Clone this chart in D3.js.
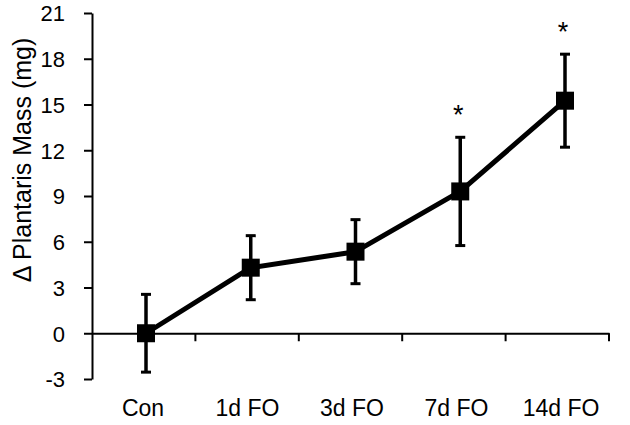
<!DOCTYPE html>
<html>
<head>
<meta charset="utf-8">
<script src="https://cdn.jsdelivr.net/npm/d3@7"></script>
<style>
  body { margin: 0; background: #fff; }
  text { font-family: Arial, "Liberation Sans", sans-serif; fill: #000; }
</style>
</head>
<body>
<svg id="chart" width="630" height="425"></svg>
<script>
const groups = ['Con', '1d FO', '3d FO', '7d FO', '14d FO'];
const means = [0, 4.3, 5.35, 9.3, 15.25];
const errors = [2.55, 2.1, 2.1, 3.55, 3.05];
const signif = [false, false, false, true, true];
const yTicks = [-3, 0, 3, 6, 9, 12, 15, 18, 21];

const svg = d3.select('#chart');
const data = groups.map((g, i) => ({ name: g, value: means[i], err: errors[i], star: signif[i] }));

const y = d3.scaleLinear().domain([-3, 21]).range([379, 13]);
// category bands for the axis ticks
const xBand = d3.scaleBand().domain(groups).range([92, 609]).padding(0);
// marker positions
const xPt = d3.scalePoint().domain(groups).range([146, 565]);
// label positions
const xLab = d3.scalePoint().domain(groups).range([143, 561]);

// y axis
const yAxis = svg.append('g')
  .attr('transform', 'translate(92,0)')
  .call(d3.axisLeft(y).tickValues(yTicks).tickSize(8).tickPadding(19).tickSizeOuter(0)
    .tickFormat(d => String(d)));
yAxis.select('.domain').attr('stroke', '#000').attr('stroke-width', 2);
yAxis.selectAll('.tick line').attr('stroke-width', 2);
yAxis.selectAll('.tick text')
  .style('font-size', '22px')
  .attr('dy', '0.36em');

// x axis at zero
const xAxis = svg.append('g')
  .attr('transform', `translate(0,${y(0)})`)
  .call(d3.axisBottom(xBand).tickSize(0).tickFormat(''));
xAxis.select('.domain').attr('stroke', '#000').attr('stroke-width', 2);
xAxis.selectAll('.tick line').remove();
xAxis.selectAll('.edge')
  .data(groups)
  .enter()
  .append('line')
  .attr('x1', d => xBand(d) + xBand.bandwidth())
  .attr('x2', d => xBand(d) + xBand.bandwidth())
  .attr('y1', 0)
  .attr('y2', 8)
  .attr('stroke', '#000')
  .attr('stroke-width', 2);

// category labels
svg.append('g').selectAll('text')
  .data(groups)
  .enter()
  .append('text')
  .attr('x', d => xLab(d))
  .attr('y', 416)
  .attr('text-anchor', 'middle')
  .style('font-size', '23px')
  .text(d => d);

// y axis title
svg.append('text')
  .attr('transform', 'translate(31,160) rotate(-90)')
  .attr('text-anchor', 'middle')
  .style('font-size', '25px')
  .text('\u0394 Plantaris Mass (mg)');

// error bars
const eb = svg.append('g');
eb.selectAll('.bar')
  .data(data)
  .enter()
  .append('line')
  .attr('x1', d => xPt(d.name))
  .attr('x2', d => xPt(d.name))
  .attr('y1', d => y(d.value - d.err))
  .attr('y2', d => y(d.value + d.err))
  .attr('stroke', '#000')
  .attr('stroke-width', 3.5);
['lo', 'hi'].forEach(k => {
  eb.selectAll('.cap-' + k)
    .data(data)
    .enter()
    .append('line')
    .attr('x1', d => xPt(d.name) - 5)
    .attr('x2', d => xPt(d.name) + 5)
    .attr('y1', d => y(k === 'lo' ? d.value - d.err : d.value + d.err))
    .attr('y2', d => y(k === 'lo' ? d.value - d.err : d.value + d.err))
    .attr('stroke', '#000')
    .attr('stroke-width', 3);
});

// line
const line = d3.line().x(d => xPt(d.name)).y(d => y(d.value));
svg.append('path')
  .datum(data)
  .attr('d', line)
  .attr('fill', 'none')
  .attr('stroke', '#000')
  .attr('stroke-width', 5)
  .attr('stroke-linejoin', 'round');

// markers
svg.append('g').selectAll('rect')
  .data(data)
  .enter()
  .append('rect')
  .attr('x', d => xPt(d.name) - 9)
  .attr('y', d => y(d.value) - 9)
  .attr('width', 18)
  .attr('height', 18)
  .attr('fill', '#000');

// significance stars
svg.append('g').selectAll('text')
  .data(data.filter(d => d.star))
  .enter()
  .append('text')
  .attr('x', d => xPt(d.name) - 2)
  .attr('y', d => y(d.value + d.err) - 13)
  .attr('text-anchor', 'middle')
  .style('font-size', '27px')
  .text('*');
</script>
</body>
</html>
